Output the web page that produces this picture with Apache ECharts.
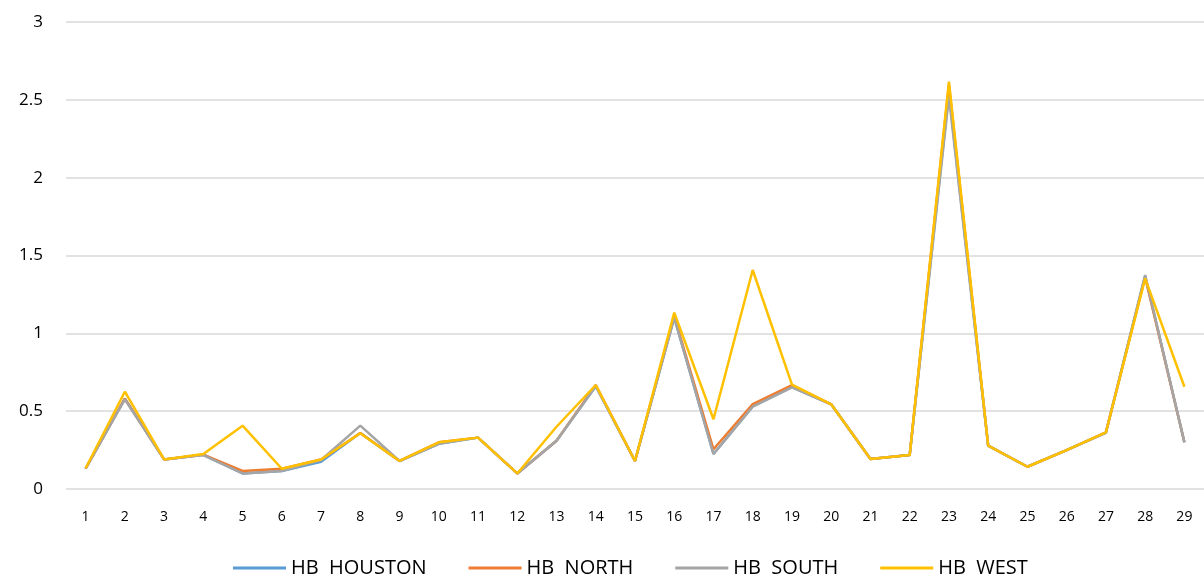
<!DOCTYPE html>
<html>
<head>
  <meta charset="utf-8">
  <title>HB hubs</title>
  <script src="https://cdn.jsdelivr.net/npm/echarts@6/dist/echarts.min.js"></script>
  <style>
    html, body { margin: 0; padding: 0; background: #fff; }
    #chart { width: 1204px; height: 575px; }
  </style>
</head>
<body>
  <div id="chart"></div>
  <script>
    // categories 1..29
    var days = ['1','2','3','4','5','6','7','8','9','10','11','12','13','14','15','16','17','18','19','20','21','22','23','24','25','26','27','28','29'];

    var houston = [0.13, 0.58, 0.19, 0.22, 0.10, 0.115, 0.175, 0.36, 0.18, 0.29, 0.33, 0.10, 0.31, 0.66, 0.18, 1.10, 0.225, 0.53, 0.655, 0.544, 0.193, 0.218, 2.55, 0.278, 0.143, 0.25, 0.36, 1.37, 0.30];
    var north   = [0.13, 0.58, 0.19, 0.22, 0.116, 0.13, 0.19, 0.36, 0.18, 0.30, 0.33, 0.10, 0.31, 0.668, 0.18, 1.11, 0.255, 0.546, 0.668, 0.544, 0.193, 0.218, 2.60, 0.278, 0.143, 0.25, 0.364, 1.36, 0.30];
    var south   = [0.133, 0.576, 0.19, 0.218, 0.10, 0.116, 0.186, 0.407, 0.18, 0.29, 0.33, 0.10, 0.31, 0.66, 0.18, 1.10, 0.225, 0.529, 0.653, 0.544, 0.193, 0.218, 2.52, 0.278, 0.143, 0.25, 0.364, 1.375, 0.30];
    var west    = [0.133, 0.625, 0.19, 0.225, 0.407, 0.13, 0.19, 0.358, 0.18, 0.30, 0.33, 0.10, 0.40, 0.668, 0.18, 1.133, 0.448, 1.407, 0.67, 0.544, 0.193, 0.218, 2.617, 0.278, 0.143, 0.25, 0.364, 1.353, 0.657];

    var chart = echarts.init(document.getElementById('chart'));

    function mk(name, data, color) {
      return {
        name: name,
        type: 'line',
        data: data,
        symbol: 'none',
        lineStyle: { width: 2.5, color: color },
        itemStyle: { color: color }
      };
    }

    chart.setOption({
      animation: false,
      textStyle: { fontFamily: 'Open Sans, Liberation Sans, sans-serif' },
      grid: { left: 66, right: -9, top: 22, bottom: 86 },
      legend: {
        top: 553,
        left: 228,
        itemWidth: 53,
        itemHeight: 3,
        itemGap: 42,
        icon: 'rect',
        textStyle: { fontSize: 20, color: '#000' },
        data: ['HB  HOUSTON', 'HB  NORTH', 'HB  SOUTH', 'HB  WEST']
      },
      xAxis: {
        type: 'category',
        boundaryGap: true,
        data: days,
        axisLine: { show: false },
        axisTick: { show: false },
        axisLabel: { color: '#000', fontSize: 14, margin: 21, interval: 0 }
      },
      yAxis: {
        type: 'value',
        min: 0,
        max: 3,
        interval: 0.5,
        axisLine: { show: false },
        axisTick: { show: false },
        axisLabel: { color: '#000', fontSize: 17, margin: 23 },
        splitLine: { lineStyle: { color: '#d9d9d9', width: 1.5 } }
      },
      series: [
        mk('HB  HOUSTON', houston, '#5B9BD5'),
        mk('HB  NORTH', north, '#ED7D31'),
        mk('HB  SOUTH', south, '#A5A5A5'),
        mk('HB  WEST', west, '#FFC000')
      ]
    });
  </script>
</body>
</html>
